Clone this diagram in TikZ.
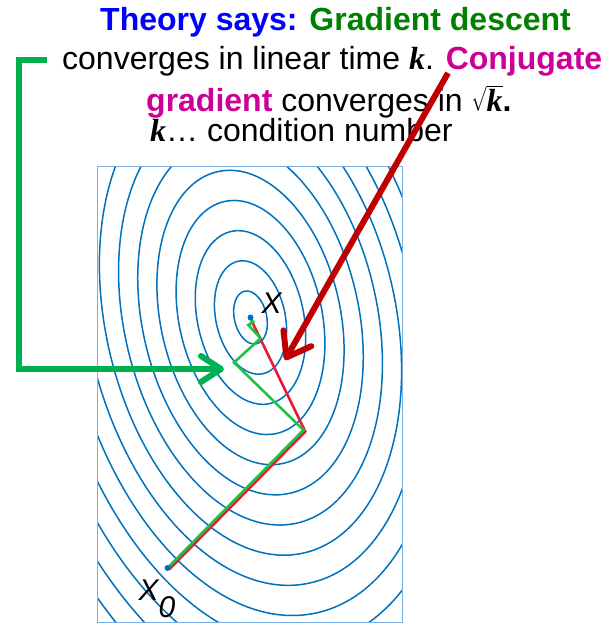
\documentclass[tikz,border=0pt]{standalone}
\usepackage{fontspec}
\usepackage{amsmath}
\usepackage{graphicx}
\setmainfont{Liberation Sans}
\newfontfamily\kfont{Liberation Serif}
\usetikzlibrary{arrows.meta}
\definecolor{contourblue}{RGB}{0,114,189}
\definecolor{boxblue}{RGB}{120,175,228}
\definecolor{cgred}{RGB}{228,30,50}
\definecolor{gdgreen}{RGB}{30,195,70}
\definecolor{arrowgreen}{RGB}{0,176,80}
\definecolor{arrowred}{RGB}{192,0,0}
\definecolor{titleblue}{RGB}{0,0,255}
\definecolor{titlegreen}{RGB}{0,128,0}
\definecolor{cgmagenta}{RGB}{204,0,153}
\newcommand{\bk}{{\kfont\bfseries\itshape k}}
\newcommand{\sqk}{\scalebox{0.72}[1]{$\sqrt{\hbox{\scalebox{1.389}[1]{\bk}}}$}}
\tikzset{
  txt/.style={anchor=base west, inner sep=0pt, font=\fontsize{32}{38}\selectfont},
  lbl/.style={inner sep=0pt, font=\fontsize{30}{34}\selectfont\itshape},
  contourline/.style={draw=contourblue, line width=1.5pt},
  pathline/.style={line width=2.6pt, line join=miter},
  greenarrow/.style={line width=6pt, -{Straight Barb[length=20pt,width=26pt,line cap=round,line join=round]}},
  redarrow/.style={line width=6pt, -{Straight Barb[length=22pt,width=32pt,line cap=round,line join=round]}},
  dotmark/.style={fill=contourblue, draw=none}
}
\begin{document}
\begin{tikzpicture}[x=1pt,y=-1pt]
\useasboundingbox (0,0) rectangle (609,623);
\coordinate (c) at (250.5,317.5);
\begin{scope}
  \clip (97,166) rectangle (402,623);
  \foreach \k in {1,...,16} {
    \pgfmathsetmacro\mr{18.4*\k-2.2}
    \pgfmathsetmacro\Mr{1.665*\mr}
    \draw[contourline, rotate around={12.7:(c)}] (c) ellipse [x radius=\mr pt, y radius=\Mr pt];
  }
\end{scope}
\draw[boxblue, line width=1pt] (97,166) rectangle (402,622.5);
% paths
\coordinate (x0) at (167.5,568);
\coordinate (r0) at (169,569.5);
\coordinate (r1) at (305.3,431.6);
\coordinate (r2) at (251,319.5);
\coordinate (g1) at (303.5,430);
\coordinate (g2) at (234,362.5);
\coordinate (g3) at (260.7,338.3);
\coordinate (g4) at (248.3,325);
\coordinate (g5) at (253.3,321.7);
\coordinate (g6) at (250.5,319);
\draw[pathline, cgred] (r0) -- (r1) -- (r2);
\draw[pathline, gdgreen] (x0) -- (g1) -- (g2) -- (g3) -- (g4) -- (g5) -- (g6);
\fill[dotmark] (c) circle (3);
\fill[dotmark] (x0) circle (3);
\node[lbl] (X) at (271.5,303) {X};
\node[lbl] (Xz) at (148.7,590) {X};
\node[lbl] (Xs) at (167,607) {0};
% text
\node[txt] (t1) at (100,31) {\bfseries\color{titleblue}Theory says: \color{titlegreen}Gradient descent};
\node[txt] (t2) at (62,70) {converges in linear time \bk. {\bfseries\color{cgmagenta}Conjugate}};
\node[txt] (t3) at (146,111) {{\bfseries\color{cgmagenta}gradient} converges in \sqk\textbf{.}};
\node[txt] (t4) at (150,141) {\bk… condition number};
% arrows
\coordinate (ga0) at (47,60);
\coordinate (gc1) at (18.5,60);
\coordinate (gc2) at (18.5,369);
\coordinate (ga1) at (224,369);
\draw[greenarrow, arrowgreen] (ga0) -- (gc1) -- (gc2) -- (ga1);
\coordinate (ra0) at (448,73);
\coordinate (ra1) at (285,360);
\draw[redarrow, arrowred] (ra0) -- (ra1);
\end{tikzpicture}
\end{document}
